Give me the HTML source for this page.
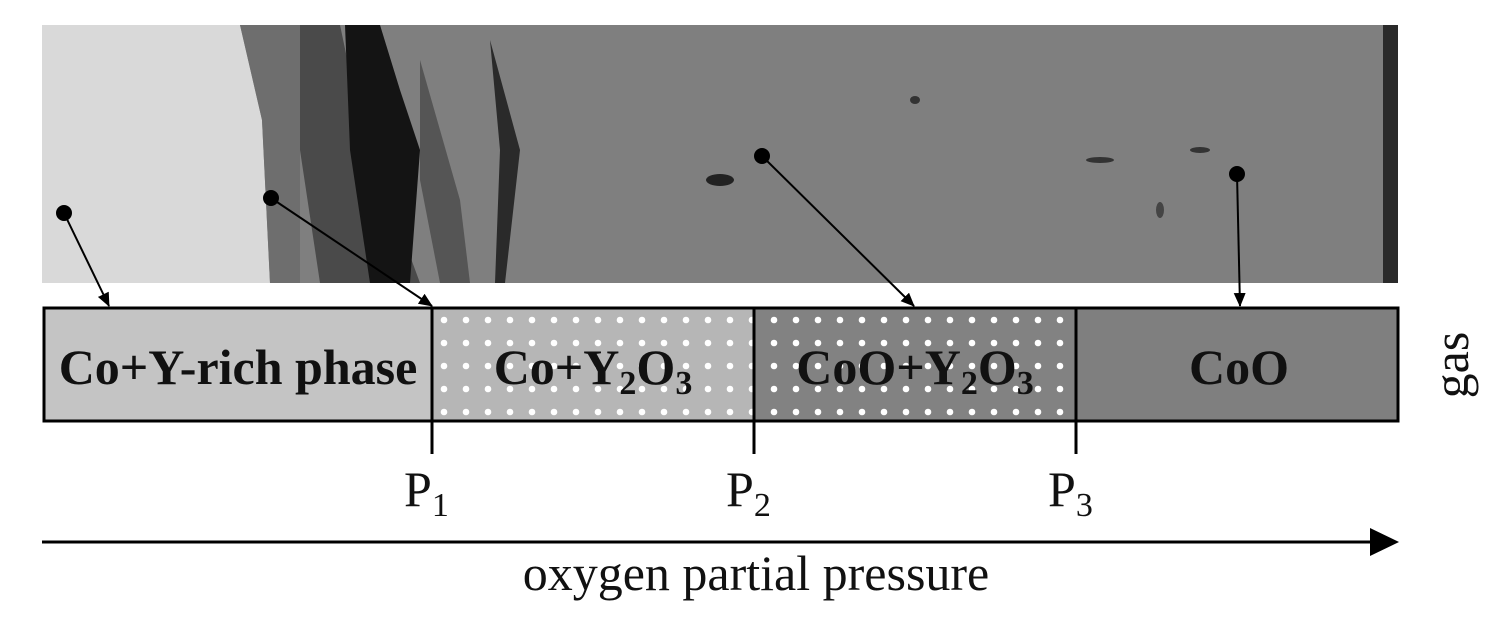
<!DOCTYPE html>
<html><head><meta charset="utf-8"><style>
html,body{margin:0;padding:0;background:#fff;}
svg{display:block;}
.b{font-family:"Liberation Serif",serif;font-weight:bold;font-size:50px;fill:#111;}
.r{font-family:"Liberation Serif",serif;font-size:50px;fill:#111;}
</style></head><body>
<svg width="1495" height="637" viewBox="0 0 1495 637">
<defs>
<pattern id="dots" x="444" y="320" width="22" height="23" patternUnits="userSpaceOnUse">
<circle cx="0" cy="0" r="3.3" fill="#fff"/><circle cx="22" cy="0" r="3.3" fill="#fff"/><circle cx="0" cy="23" r="3.3" fill="#fff"/><circle cx="22" cy="23" r="3.3" fill="#fff"/>
</pattern>
<marker id="ah" markerWidth="14" markerHeight="12" refX="13" refY="6" orient="auto" markerUnits="userSpaceOnUse"><path d="M0,0 L14,6 L0,12 Z" fill="#000"/></marker>
</defs>
<g>
<rect x="42" y="25" width="1356" height="258" fill="#7f7f7f"/>
<polygon points="42,25 240,25 262,120 270,283 42,283" fill="#d9d9d9"/>
<polygon points="240,25 300,25 300,283 270,283 262,120" fill="#6e6e6e"/>
<polygon points="300,25 340,25 360,120 420,283 320,283 300,150" fill="#4a4a4a"/>
<polygon points="345,25 380,25 400,90 420,150 410,283 370,283 350,150" fill="#141414"/>
<polygon points="420,60 460,200 470,283 440,283 420,180" fill="#555"/>
<polygon points="490,40 520,150 505,283 495,283 500,150" fill="#2a2a2a"/>
<rect x="1383" y="25" width="15" height="258" fill="#2a2a2a"/>
<ellipse cx="720" cy="180" rx="14" ry="6" fill="#222"/>
<ellipse cx="1100" cy="160" rx="14" ry="3" fill="#333"/>
<ellipse cx="1200" cy="150" rx="10" ry="3" fill="#333"/>
<ellipse cx="915" cy="100" rx="5" ry="4" fill="#333"/>
<ellipse cx="1160" cy="210" rx="4" ry="8" fill="#444"/>
</g>
<g stroke="#000" stroke-width="2" fill="none">
<circle cx="64" cy="213" r="7" fill="#000"/><line x1="64" y1="213" x2="109" y2="306" marker-end="url(#ah)"/>
<circle cx="271" cy="198" r="7" fill="#000"/><line x1="271" y1="198" x2="432" y2="306" marker-end="url(#ah)"/>
<circle cx="762" cy="156" r="7" fill="#000"/><line x1="762" y1="156" x2="914" y2="306" marker-end="url(#ah)"/>
<circle cx="1237" cy="174" r="7" fill="#000"/><line x1="1237" y1="174" x2="1240" y2="306" marker-end="url(#ah)"/>
</g>
<g>
<rect x="44" y="308" width="388" height="113" fill="#c4c4c4"/>
<rect x="432" y="308" width="322" height="113" fill="#b6b6b6"/>
<rect x="432" y="308" width="322" height="113" fill="url(#dots)"/>
<rect x="754" y="308" width="322" height="113" fill="#828282"/>
<rect x="754" y="308" width="322" height="113" fill="url(#dots)"/>
<rect x="1076" y="308" width="322" height="113" fill="#7f7f7f"/>
<rect x="44" y="308" width="1354" height="113" fill="none" stroke="#000" stroke-width="3"/>
<line x1="432" y1="308" x2="432" y2="454" stroke="#000" stroke-width="3"/>
<line x1="754" y1="308" x2="754" y2="454" stroke="#000" stroke-width="3"/>
<line x1="1076" y1="308" x2="1076" y2="454" stroke="#000" stroke-width="3"/>
<text class="b" x="238" y="384" text-anchor="middle">Co+Y-rich phase</text>
<text class="b" x="593" y="384" text-anchor="middle">Co+Y<tspan font-size="34" dy="10">2</tspan><tspan dy="-10">O</tspan><tspan font-size="34" dy="10">3</tspan></text>
<text class="b" x="915" y="384" text-anchor="middle">CoO+Y<tspan font-size="34" dy="10">2</tspan><tspan dy="-10">O</tspan><tspan font-size="34" dy="10">3</tspan></text>
<text class="b" x="1239" y="384" text-anchor="middle">CoO</text>
</g>
<text class="r" font-size="54" transform="translate(1468,365) rotate(-90)" text-anchor="middle">gas</text>
<text class="r" x="404" y="506">P<tspan font-size="34" dy="10">1</tspan></text>
<text class="r" x="726" y="506">P<tspan font-size="34" dy="10">2</tspan></text>
<text class="r" x="1048" y="506">P<tspan font-size="34" dy="10">3</tspan></text>
<g>
<line x1="42" y1="542" x2="1372" y2="542" stroke="#000" stroke-width="3"/>
<polygon points="1370,528 1399,542 1370,556" fill="#000"/>
</g>
<text class="r" x="756" y="590" text-anchor="middle">oxygen partial pressure</text>
</svg>
</body></html>
